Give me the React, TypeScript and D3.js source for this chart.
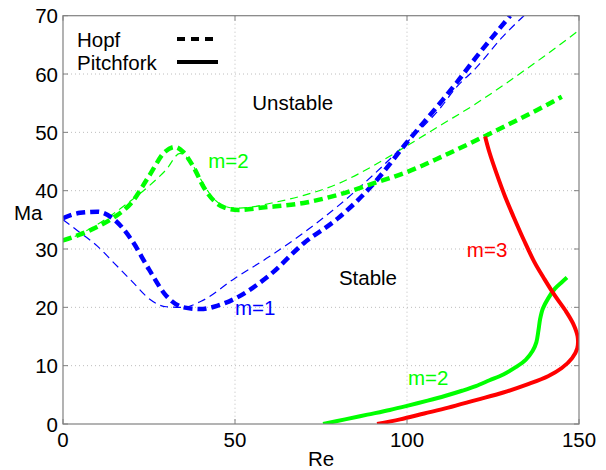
import React from "react";
import * as d3 from "d3";

// Hopf boundary, m=1 (thick dashed blue)
const hopfM1Re = [0, 5, 10, 15, 20, 25, 30, 35, 40, 45, 50, 60, 70, 80, 90, 100, 110, 114.4, 120, 130];
const hopfM1Ma = [35.3, 36.2, 36.4, 35.0, 31.5, 26.5, 22.0, 20.0, 19.7, 20.3, 21.5, 25.5, 31.0, 35.3, 41.0, 48.3, 55.3, 58.5, 62.8, 70];

// m=1 reference curve (thin dashed blue)
const refM1Re = [0, 5, 10, 15, 20, 25, 30, 35, 40, 50, 60, 70, 80, 90, 100, 110, 114, 120, 128, 134];
const refM1Ma = [35.0, 32.8, 30.5, 27.5, 24.5, 21.5, 20.1, 20.0, 21.0, 25.0, 28.7, 32.8, 37.4, 42.6, 48.3, 54.4, 57.5, 61.0, 66.5, 70];

// Hopf boundary, m=2 (thick dashed green)
const hopfM2Re = [0, 5, 10, 15, 20, 25, 29.7, 32.5, 35, 38, 41, 44, 47, 51, 58, 70, 80, 90, 100, 110, 120, 130, 140, 145];
const hopfM2Ma = [31.5, 32.5, 33.8, 35.5, 38.0, 42.5, 46.7, 47.5, 46.6, 44.0, 40.5, 38.2, 37.1, 36.7, 37.1, 37.9, 39.3, 41.2, 43.2, 45.8, 48.6, 51.5, 54.5, 56.1];

// m=2 reference curve (thin dashed green)
const refM2Re = [0, 5, 10, 15, 20, 25, 30, 34, 37, 40, 43, 46, 50, 55, 60, 70, 80, 90, 100, 110, 120, 130, 140, 150];
const refM2Ma = [31.2, 32.6, 34.2, 36.2, 38.4, 40.8, 43.6, 46.4, 45.0, 42.0, 39.2, 37.6, 37.0, 37.2, 37.8, 39.2, 41.2, 44.2, 47.7, 51.3, 54.9, 58.9, 63.1, 67.5];

// Pitchfork boundary, m=3 (solid red)
const pitchM3Re = [122.7, 124, 126, 128.5, 131, 134, 137, 140, 143, 146, 148.3, 149.6, 149.5, 148, 145, 141, 135, 128, 120, 112, 105, 98, 91.3];
const pitchM3Ma = [49.3, 46.5, 43, 39, 35.5, 31.5, 27.8, 24.8, 22, 19.5, 17.2, 15, 13, 11.3, 9.6, 8.2, 6.8, 5.4, 4.1, 2.8, 1.8, 0.8, 0];

// Pitchfork boundary, m=2 (solid green)
const pitchM2Re = [75.6, 82, 88.5, 95, 100, 106, 111, 116, 120, 124, 128, 131.5, 134.5, 136.5, 137.6, 138.2, 138.7, 139.5, 141, 143, 145, 146.5];
const pitchM2Ma = [0, 0.8, 1.6, 2.4, 3.1, 4.0, 4.8, 5.7, 6.5, 7.5, 8.5, 9.7, 11, 12.5, 14, 16, 18, 19.8, 21.5, 23.2, 24.3, 25.1];

const xTicks = [0, 50, 100, 150];
const yTicks = [0, 10, 20, 30, 40, 50, 60, 70];
const xGrid = [50, 100];
const yGrid = [10, 20, 30, 40, 50, 60];

const W = 606;
const H = 470;
const plot = { left: 63, right: 579, top: 15.7, bottom: 424 };
const FONT = "'Liberation Sans', Arial, Helvetica, sans-serif";
const FS = 20.5;

const BLUE = "#0000ff";
const GREEN = "#00ff00";
const RED = "#ff0000";

const x = d3.scaleLinear().domain([0, 150]).range([plot.left, plot.right]);
const y = d3.scaleLinear().domain([0, 70]).range([plot.bottom, plot.top]);

const zip = (a: number[], b: number[]) => a.map((v, i) => [v, b[i]] as [number, number]);

const lineX = d3
  .line<[number, number]>()
  .x((d) => x(d[0]))
  .y((d) => y(d[1]))
  .curve(d3.curveMonotoneX);

const lineParam = d3
  .line<[number, number]>()
  .x((d) => x(d[0]))
  .y((d) => y(d[1]))
  .curve(d3.curveCatmullRom.alpha(0.5));

export default function App() {
  const tickLen = 5;
  return (
    <svg
      width={W}
      height={H}
      style={{ position: "absolute", left: 0, top: 0, background: "#fff" }}
      fontFamily={FONT}
    >
      <defs>
        <clipPath id="plotClip">
          <rect x={plot.left} y={plot.top} width={plot.right - plot.left} height={plot.bottom - plot.top} />
        </clipPath>
      </defs>
      <rect x={0} y={0} width={W} height={H} fill="#fff" />

      {/* dotted grid */}
      {xGrid.map((v) => (
        <line key={"gx" + v} x1={x(v)} x2={x(v)} y1={plot.top} y2={plot.bottom} stroke="#bdbdbd" strokeWidth={1} strokeDasharray="1,3" />
      ))}
      {yGrid.map((v) => (
        <line key={"gy" + v} x1={plot.left} x2={plot.right} y1={y(v)} y2={y(v)} stroke="#bdbdbd" strokeWidth={1} strokeDasharray="1,3" />
      ))}

      {/* stability boundaries */}
      <g clipPath="url(#plotClip)" fill="none">
        <path d={lineX(zip(refM1Re, refM1Ma)) || ""} stroke={BLUE} strokeWidth={1.2} strokeDasharray="8,5" />
        <path d={lineX(zip(refM2Re, refM2Ma)) || ""} stroke={GREEN} strokeWidth={1.2} strokeDasharray="8,5" />
        <path d={lineX(zip(hopfM1Re, hopfM1Ma)) || ""} stroke={BLUE} strokeWidth={4.5} strokeDasharray="9,5" />
        <path d={lineX(zip(hopfM2Re, hopfM2Ma)) || ""} stroke={GREEN} strokeWidth={4.5} strokeDasharray="9,5" />
        <path d={lineParam(zip(pitchM2Re, pitchM2Ma)) || ""} stroke={GREEN} strokeWidth={4} />
        <path d={lineParam(zip(pitchM3Re, pitchM3Ma)) || ""} stroke={RED} strokeWidth={4} />
      </g>

      {/* axes box */}
      <rect
        x={plot.left}
        y={plot.top}
        width={plot.right - plot.left}
        height={plot.bottom - plot.top}
        fill="none"
        stroke="#808080"
        strokeWidth={1.2}
      />
      {xTicks.map((v) => (
        <g key={"xt" + v}>
          <line x1={x(v)} x2={x(v)} y1={plot.bottom} y2={plot.bottom - tickLen} stroke="#808080" />
          <line x1={x(v)} x2={x(v)} y1={plot.top} y2={plot.top + tickLen} stroke="#808080" />
          <text x={x(v)} y={plot.bottom + 23} textAnchor="middle" fontSize={FS} fill="#000">
            {v}
          </text>
        </g>
      ))}
      {yTicks.map((v) => (
        <g key={"yt" + v}>
          <line x1={plot.left} x2={plot.left + tickLen} y1={y(v)} y2={y(v)} stroke="#808080" />
          <line x1={plot.right} x2={plot.right - tickLen} y1={y(v)} y2={y(v)} stroke="#808080" />
          <text x={plot.left - 5} y={y(v) + 7.5} textAnchor="end" fontSize={FS} fill="#000">
            {v}
          </text>
        </g>
      ))}

      {/* axis titles */}
      <text x={(plot.left + plot.right) / 2} y={466} textAnchor="middle" fontSize={FS} fill="#000">
        Re
      </text>
      <text x={14} y={220} fontSize={FS} fill="#000">
        Ma
      </text>

      {/* region and mode labels */}
      <text x={x(55)} y={y(53.9)} fontSize={FS} fill="#000">Unstable</text>
      <text x={x(80.2)} y={y(23.8)} fontSize={FS} fill="#000">Stable</text>
      <text x={x(42.2)} y={y(43.9)} fontSize={FS} fill={GREEN}>m=2</text>
      <text x={x(50)} y={y(18.7)} fontSize={FS} fill={BLUE}>m=1</text>
      <text x={x(117.4)} y={y(28.6)} fontSize={FS} fill={RED}>m=3</text>
      <text x={x(100.3)} y={y(6.7)} fontSize={FS} fill={GREEN}>m=2</text>

      {/* legend */}
      <text x={77} y={46.5} fontSize={FS} fill="#000">Hopf</text>
      <text x={77} y={70} fontSize={FS} fill="#000">Pitchfork</text>
      <line x1={177} x2={214} y1={39} y2={39} stroke="#000" strokeWidth={4} strokeDasharray="8,6" />
      <line x1={177} x2={218} y1={62} y2={62} stroke="#000" strokeWidth={4} />
    </svg>
  );
}
